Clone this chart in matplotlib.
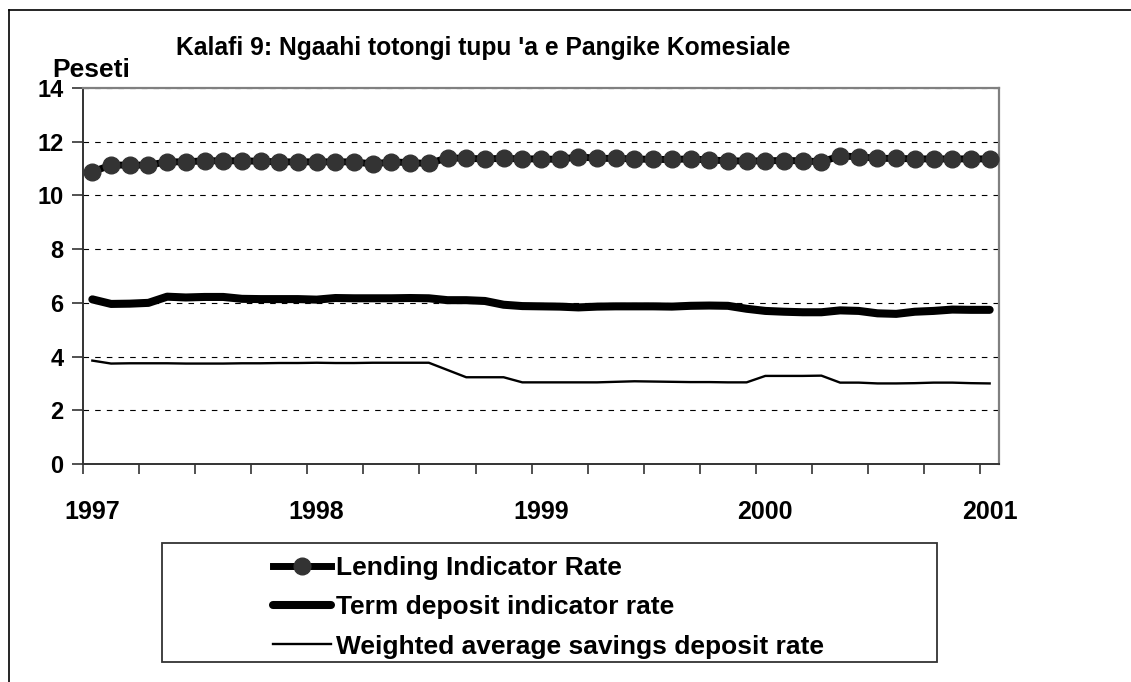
import numpy as np
import matplotlib
matplotlib.use('Agg')
import matplotlib.pyplot as plt
from matplotlib.lines import Line2D
from matplotlib.patches import Rectangle

plt.rcParams['font.family'] = ['Liberation Sans', 'DejaVu Sans']
plt.rcParams['font.weight'] = 'bold'

# monthly data, Jan 1997 .. Jan 2001
year_labels = ['1997', '1998', '1999', '2000', '2001']
lending = [10.88, 11.13, 11.13, 11.13, 11.25, 11.25, 11.29, 11.29, 11.29, 11.27,
           11.25, 11.25, 11.25, 11.25, 11.25, 11.17, 11.25, 11.22, 11.19, 11.40,
           11.38, 11.36, 11.38, 11.36, 11.36, 11.34, 11.44, 11.38, 11.38, 11.36,
           11.34, 11.34, 11.36, 11.32, 11.29, 11.28, 11.29, 11.30, 11.29, 11.25,
           11.47, 11.44, 11.38, 11.38, 11.36, 11.36, 11.36, 11.36, 11.36]
term = [6.13, 5.96, 5.97, 6.00, 6.23, 6.20, 6.22, 6.22, 6.15, 6.14,
        6.14, 6.14, 6.12, 6.18, 6.17, 6.17, 6.17, 6.18, 6.17, 6.10,
        6.10, 6.07, 5.93, 5.88, 5.87, 5.86, 5.83, 5.86, 5.87, 5.87,
        5.87, 5.86, 5.89, 5.90, 5.89, 5.78, 5.70, 5.67, 5.65, 5.65,
        5.72, 5.70, 5.61, 5.59, 5.67, 5.70, 5.75, 5.74, 5.74]
savings = [3.85, 3.74, 3.75, 3.75, 3.75, 3.74, 3.74, 3.74, 3.75, 3.75,
           3.76, 3.76, 3.77, 3.76, 3.76, 3.77, 3.77, 3.77, 3.77, 3.50,
           3.23, 3.23, 3.23, 3.04, 3.04, 3.04, 3.04, 3.04, 3.06, 3.08,
           3.07, 3.06, 3.05, 3.05, 3.04, 3.04, 3.28, 3.28, 3.28, 3.29,
           3.03, 3.03, 3.00, 3.00, 3.01, 3.03, 3.03, 3.01, 3.00]
names = ['Lending Indicator Rate', 'Term deposit indicator rate',
         'Weighted average savings deposit rate']

W, H = 1131, 682
fig = plt.figure(figsize=(W / 100, H / 100), dpi=100)
ax = fig.add_axes([83 / W, 1 - 464 / H, (999 - 83) / W, (464 - 88) / H])

x = np.arange(len(lending))
ax.plot(x, lending, color='black', lw=5, marker='o', ms=12,
        mfc='#333333', mec='#333333', label=names[0], zorder=4)
ax.plot(x, term, color='black', lw=5.8, solid_capstyle='round',
        solid_joinstyle='round', label=names[1], zorder=3)
ax.plot(x, savings, color='black', lw=1.7, label=names[2], zorder=3)

ax.set_xlim(-0.5, len(lending) - 0.5)
ax.set_ylim(0, 14)
ax.set_yticks(np.arange(0, 15, 2))
ax.yaxis.grid(True, color='black', lw=0.8, linestyle=(0, (5, 5.5)))
ax.set_axisbelow(True)

ax.set_xticks(np.arange(-0.5, len(lending) - 1, 3))
ax.set_xticklabels([])
ax.set_xticks(np.arange(0, len(lending), 12), minor=True)
ax.set_xticklabels(year_labels, minor=True, fontsize=18, fontweight='bold')
ax.tick_params(axis='x', which='major', direction='out', length=7, width=1.2,
               color='#333333')
ax.tick_params(axis='x', which='minor', length=0, pad=26)
ax.tick_params(axis='y', direction='out', length=8, width=1.2, color='#333333',
               labelsize=17, pad=6)
for t in ax.get_yticklabels():
    t.set_fontweight('bold')

for s in ['top', 'right']:
    ax.spines[s].set_color('#808080')
    ax.spines[s].set_linewidth(1.6)
for s in ['left', 'bottom']:
    ax.spines[s].set_color('#333333')
    ax.spines[s].set_linewidth(1.4)

fig.text(483 / W, 1 - 48 / H, "Kalafi 9: Ngaahi totongi tupu 'a e Pangike Komesiale",
         ha='center', va='center', fontsize=17.7, fontweight='bold')
fig.text(52 / W, 1 - 70 / H, 'Peseti', ha='left', va='center',
         fontsize=19, fontweight='bold')

# outer frame (top and left edges only visible)
fig.add_artist(Line2D([9 / W, 1], [1 - 10 / H, 1 - 10 / H], color='black', lw=1.2))
fig.add_artist(Line2D([9 / W, 9 / W], [0, 1 - 10 / H], color='black', lw=1.2))

# legend box
fig.add_artist(Rectangle((162 / W, 1 - 662 / H), 775 / W, 119 / H,
                         fill=False, edgecolor='#333333', lw=1.3))
fig.legend(loc='upper left', bbox_to_anchor=(273 / W, 1 - 556 / H),
           frameon=False, handlelength=2.2, handletextpad=0.2,
           labelspacing=0.58, borderpad=0, borderaxespad=0,
           prop={'weight': 'bold', 'size': 19})

fig.savefig('out.png', dpi=100)
